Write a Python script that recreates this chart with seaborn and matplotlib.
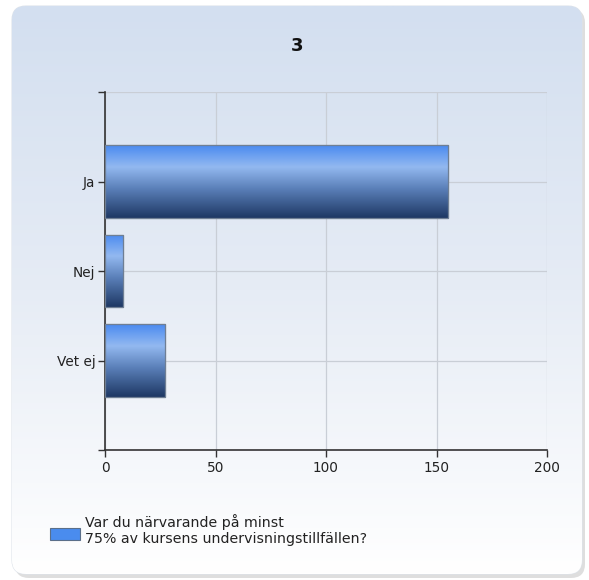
import numpy as np
import pandas as pd
import seaborn as sns
import matplotlib.pyplot as plt
from matplotlib.patches import FancyBboxPatch, Rectangle
from matplotlib.colors import LinearSegmentedColormap

# --- Data ---
categories = ["Ja", "Nej", "Vet ej"]
counts = [155, 8, 27]
title = "3"
legend_label = "Var du närvarande på minst\n75% av kursens undervisningstillfällen?"

df = pd.DataFrame({"svar": categories, "antal": counts})

sns.set_theme(style="white")
plt.rcParams["font.family"] = ["DejaVu Sans"]

W, H = 589, 580
fig = plt.figure(figsize=(W / 100, H / 100), dpi=100)
fig.patch.set_facecolor("white")

# --- Rounded panel with gradient background ---
bg = fig.add_axes([0, 0, 1, 1], zorder=0)
bg.set_xlim(0, W)
bg.set_ylim(H, 0)
bg.axis("off")

shadow = FancyBboxPatch((15, 9), 570, 569, boxstyle="round,pad=0,rounding_size=14",
                        facecolor="#c8c8c8", edgecolor="none", alpha=0.6)
bg.add_patch(shadow)
panel = FancyBboxPatch((12, 6), 570, 568, boxstyle="round,pad=0,rounding_size=14",
                       facecolor="none", edgecolor="#dde3ea", linewidth=0.8)
bg.add_patch(panel)
bg_cmap = LinearSegmentedColormap.from_list("bg", ["#d3dff0", "#e6ecf5", "#ffffff"])
grad = np.linspace(0, 1, 256).reshape(-1, 1)
img = bg.imshow(grad, cmap=bg_cmap, aspect="auto", extent=(12, 582, 574, 6), zorder=1)
img.set_clip_path(panel)

# --- Bar chart ---
ax = fig.add_axes([105 / W, 1 - 450 / H, 442 / W, 358 / H], zorder=2)
ax.patch.set_alpha(0)
sns.barplot(data=df, y="svar", x="antal", orient="h", width=0.81,
            color="#4a8cee", edgecolor="#6f7f94", linewidth=0.8, ax=ax, zorder=3)

ax.set_xlim(0, 200)
ax.set_ylim(3, -1)
ax.set_xticks([0, 50, 100, 150, 200])
ax.set_yticks([-1, 0, 1, 2, 3])
ax.set_yticklabels([""] + categories + [""])
ax.grid(True, color="#c9ced6", linewidth=0.9, zorder=0)
ax.set_axisbelow(True)
ax.set_xlabel("")
ax.set_ylabel("")
for s in ["top", "right"]:
    ax.spines[s].set_visible(False)
for s in ["left", "bottom"]:
    ax.spines[s].set_color("#333333")
    ax.spines[s].set_linewidth(1.2)
ax.tick_params(axis="both", which="major", length=5, width=1, color="#333333",
               labelsize=9.8, labelcolor="#222222", left=True, bottom=True)
ax.tick_params(axis="x", pad=3)
ax.tick_params(axis="y", pad=2)

# cylinder-like gradient on each bar
bar_cmap = LinearSegmentedColormap.from_list(
    "bar", [(0, "#4a8af0"), (0.3, "#93b9f0"), (0.6, "#5a7fb8"), (1, "#1e3864")])
for p in ax.patches:
    x0, y0 = p.get_x(), p.get_y()
    w, h = p.get_width(), p.get_height()
    g = ax.imshow(grad, cmap=bar_cmap, aspect="auto",
                  extent=(x0, x0 + w, y0 + h, y0), zorder=3.5)
    g.set_clip_path(p)
    ax.add_patch(Rectangle((x0, y0), w, h, facecolor="none",
                           edgecolor="#6f7f94", linewidth=0.9, zorder=4))
ax.set_xlim(0, 200)
ax.set_ylim(3, -1)

# --- Title ---
fig.text(297 / W, 1 - 46 / H, title, ha="center", va="center",
         fontsize=13, fontweight="bold", color="#111111")

# --- Legend ---
fig.patches.append(Rectangle((50 / W, 1 - 540 / H), 30 / W, 12 / H,
                             transform=fig.transFigure, facecolor="#4a8cee",
                             edgecolor="#5a6f8a", linewidth=0.8, zorder=5))
fig.text(85 / W, 1 - 530 / H, legend_label, ha="left", va="center",
         fontsize=10.2, color="#222222", linespacing=1.2)

fig.savefig("out.png", dpi=100)
